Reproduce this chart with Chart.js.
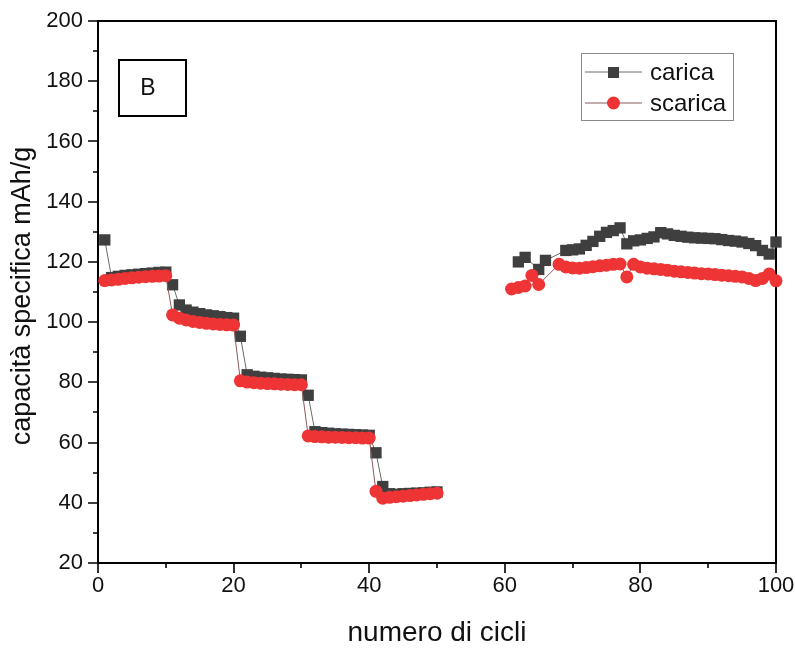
<!DOCTYPE html>
<html>
<head>
<meta charset="utf-8">
<script src="https://cdn.jsdelivr.net/npm/chart.js@4/dist/chart.umd.min.js"></script>
<style>
  html, body { margin: 0; padding: 0; background: #fff; }
  #wrap { width: 795px; height: 648px; }
</style>
</head>
<body>
<div id="wrap"><canvas id="chart"></canvas></div>
<script>
/* --- Data ---------------------------------------------------- */
const CARICA_CICLI = [
  1, 2, 3, 4, 5, 6, 7, 8, 9, 10,
  11, 12, 13, 14, 15, 16, 17, 18, 19, 20,
  21, 22, 23, 24, 25, 26, 27, 28, 29, 30,
  31, 32, 33, 34, 35, 36, 37, 38, 39, 40,
  41, 42, 43, 44, 45, 46, 47, 48, 49, 50,
  62, 63, 65, 66, 69, 70, 71, 72, 73, 74,
  75, 76, 77, 78, 79, 80, 81, 82, 83, 84,
  85, 86, 87, 88, 89, 90, 91, 92, 93, 94,
  95, 96, 97, 98, 99, 100
];
const CARICA = [
  127.3, 114.8, 115.2, 115.5, 115.7, 115.9, 116.1, 116.3, 116.5, 116.6,
  112.4, 105.7, 104.0, 103.3, 102.8, 102.4, 102.1, 101.8, 101.5, 101.3,
  95.3, 82.5, 82.0, 81.7, 81.5, 81.3, 81.1, 81.0, 80.9, 80.8,
  75.7, 63.6, 63.3, 63.1, 62.9, 62.8, 62.7, 62.6, 62.5, 62.4,
  56.6, 45.4, 43.0, 42.8, 43.0, 43.1, 43.2, 43.3, 43.5, 43.6,
  120.0, 121.5, 117.5, 120.5, 123.8, 124.0, 124.3, 125.5, 126.8, 128.5,
  129.8, 130.4, 131.3, 126.0, 127.0, 127.3, 127.8, 128.3, 129.7, 129.3,
  128.8, 128.5, 128.2, 128.0, 127.9, 127.8, 127.7, 127.4, 127.1, 126.9,
  126.6, 126.1, 125.4, 123.8, 122.6, 126.6
];

const SCARICA_CICLI = [
  1, 2, 3, 4, 5, 6, 7, 8, 9, 10,
  11, 12, 13, 14, 15, 16, 17, 18, 19, 20,
  21, 22, 23, 24, 25, 26, 27, 28, 29, 30,
  31, 32, 33, 34, 35, 36, 37, 38, 39, 40,
  41, 42, 43, 44, 45, 46, 47, 48, 49, 50,
  61, 62, 63, 64, 65, 68, 69, 70, 71, 72,
  73, 74, 75, 76, 77, 78, 79, 80, 81, 82,
  83, 84, 85, 86, 87, 88, 89, 90, 91, 92,
  93, 94, 95, 96, 97, 98, 99, 100
];
const SCARICA = [
  113.8, 114.0, 114.2, 114.5, 114.7, 114.9, 115.1, 115.2, 115.3, 115.4,
  102.4, 101.3, 100.7, 100.2, 99.9, 99.6, 99.4, 99.2, 99.1, 99.0,
  80.5, 80.1, 79.9, 79.7, 79.6, 79.5, 79.4, 79.3, 79.2, 79.2,
  62.2, 62.0, 61.9, 61.8, 61.8, 61.7, 61.6, 61.6, 61.5, 61.5,
  43.8, 41.5, 41.8, 42.0, 42.2, 42.4, 42.6, 42.8, 43.0, 43.2,
  111.0, 111.5, 112.0, 115.5, 112.5, 119.2, 118.3, 118.0, 117.9, 118.1,
  118.4, 118.7, 118.9, 119.2, 119.3, 115.0, 119.2, 118.3, 117.9, 117.7,
  117.5, 117.2, 116.9, 116.7, 116.5, 116.3, 116.1, 116.0, 115.8, 115.6,
  115.4, 115.2, 115.0, 114.5, 113.8, 114.5, 116.0, 113.7
];

const X_TICKS = [0, 20, 40, 60, 80, 100];
const Y_TICKS = [20, 40, 60, 80, 100, 120, 140, 160, 180, 200];

const FONT = '"Liberation Sans", Arial, sans-serif';
const GREY = '#3f3f3f';
const RED = '#ee3434';

const toPoints = (xs, ys) => xs.map((x, i) => ({ x, y: ys[i] }));
// no line across the missing cycles 51-60
const skipGap = ctx => (ctx.p1.parsed.x - ctx.p0.parsed.x > 5 ? 'transparent' : undefined);

/* --- Frame, minor ticks, titles, legend, "B" box ------------ */
const decorations = {
  id: 'decorations',
  beforeDatasetsDraw(chart) {
    const { ctx, chartArea: a, scales: { x, y } } = chart;
    ctx.save();

    // box frame
    ctx.strokeStyle = '#000';
    ctx.lineWidth = 2;
    ctx.strokeRect(a.left, a.top, a.right - a.left, a.bottom - a.top);

    // ticks (major every 20, minor every 10), pointing outward
    ctx.lineWidth = 1.6;
    ctx.beginPath();
    for (let v = 20; v <= 200; v += 10) {
      const py = Math.round(y.getPixelForValue(v));
      const len = v % 20 === 0 ? 10 : 5;
      ctx.moveTo(a.left - len, py);
      ctx.lineTo(a.left, py);
    }
    for (let v = 0; v <= 100; v += 10) {
      const px = Math.round(x.getPixelForValue(v));
      const len = v % 20 === 0 ? 10 : 5;
      ctx.moveTo(px, a.bottom);
      ctx.lineTo(px, a.bottom + len);
    }
    ctx.stroke();
    ctx.restore();
  },
  afterDraw(chart) {
    const { ctx, chartArea: a } = chart;
    ctx.save();

    // axis titles
    ctx.fillStyle = '#111';
    ctx.textAlign = 'center';
    ctx.textBaseline = 'middle';
    ctx.font = '28px ' + FONT;
    ctx.fillText('numero di cicli', (a.left + a.right) / 2, 633);
    ctx.save();
    ctx.translate(23, 296);
    ctx.rotate(-Math.PI / 2);
    ctx.font = '27px ' + FONT;
    ctx.fillText('capacità specifica mAh/g', 0, 0);
    ctx.restore();

    // "B" box
    ctx.lineWidth = 2;
    ctx.strokeStyle = '#000';
    ctx.strokeRect(119, 60, 67, 56);
    ctx.font = '23px ' + FONT;
    ctx.fillText('B', 148, 89);

    // legend
    ctx.lineWidth = 1;
    ctx.strokeStyle = '#8a8a8a';
    ctx.strokeRect(581.5, 53.5, 152, 67);
    const items = [
      { label: 'carica', ds: chart.data.datasets[0], y: 72 },
      { label: 'scarica', ds: chart.data.datasets[1], y: 103 },
    ];
    ctx.font = '24px ' + FONT;
    ctx.textAlign = 'left';
    for (const it of items) {
      ctx.strokeStyle = it.ds.borderColor;
      ctx.lineWidth = 1;
      ctx.beginPath();
      ctx.moveTo(585, it.y);
      ctx.lineTo(642, it.y);
      ctx.stroke();
      ctx.fillStyle = it.ds.pointBackgroundColor;
      if (it.ds.pointStyle === 'rect') {
        ctx.fillRect(608, it.y - 5, 11, 11);
      } else {
        ctx.beginPath();
        ctx.arc(613.5, it.y, 6.5, 0, Math.PI * 2);
        ctx.fill();
      }
      ctx.fillStyle = '#111';
      ctx.fillText(it.label, 650, it.y + 1);
    }
    ctx.restore();
  }
};

new Chart(document.getElementById('chart'), {
  type: 'line',
  data: {
    datasets: [
      {
        label: 'carica',
        data: toPoints(CARICA_CICLI, CARICA),
        borderColor: '#6a6a6a',
        borderWidth: 1,
        pointStyle: 'rect',
        pointRadius: 8,
        pointBackgroundColor: GREY,
        pointBorderWidth: 0,
        segment: { borderColor: skipGap },
        clip: false,
        order: 1,
      },
      {
        label: 'scarica',
        data: toPoints(SCARICA_CICLI, SCARICA),
        borderColor: '#8a5a5a',
        borderWidth: 1,
        pointStyle: 'circle',
        pointRadius: 6.5,
        pointBackgroundColor: RED,
        pointBorderWidth: 0,
        segment: { borderColor: skipGap },
        clip: false,
        order: 0,
      }
    ]
  },
  options: {
    responsive: true,
    maintainAspectRatio: false,
    animation: false,
    layout: { padding: { top: 21, right: 19, left: 0, bottom: 0 } },
    plugins: {
      legend: { display: false },
      tooltip: { enabled: false },
    },
    scales: {
      x: {
        type: 'linear',
        min: 0,
        max: 100,
        afterBuildTicks: s => { s.ticks = X_TICKS.map(v => ({ value: v })); },
        afterFit: s => { s.height = 85; s.paddingLeft = 0; s.paddingRight = 0; },
        grid: { display: false, drawTicks: false },
        border: { display: false },
        ticks: { padding: 10, color: '#111', font: { family: FONT, size: 22 } },
      },
      y: {
        min: 20,
        max: 200,
        afterBuildTicks: s => { s.ticks = Y_TICKS.map(v => ({ value: v })); },
        afterFit: s => { s.width = 98; s.paddingTop = 0; s.paddingBottom = 0; },
        grid: { display: false, drawTicks: false },
        border: { display: false },
        ticks: { padding: 15, color: '#111', font: { family: FONT, size: 22 } },
      }
    }
  },
  plugins: [decorations]
});
</script>
</body>
</html>
